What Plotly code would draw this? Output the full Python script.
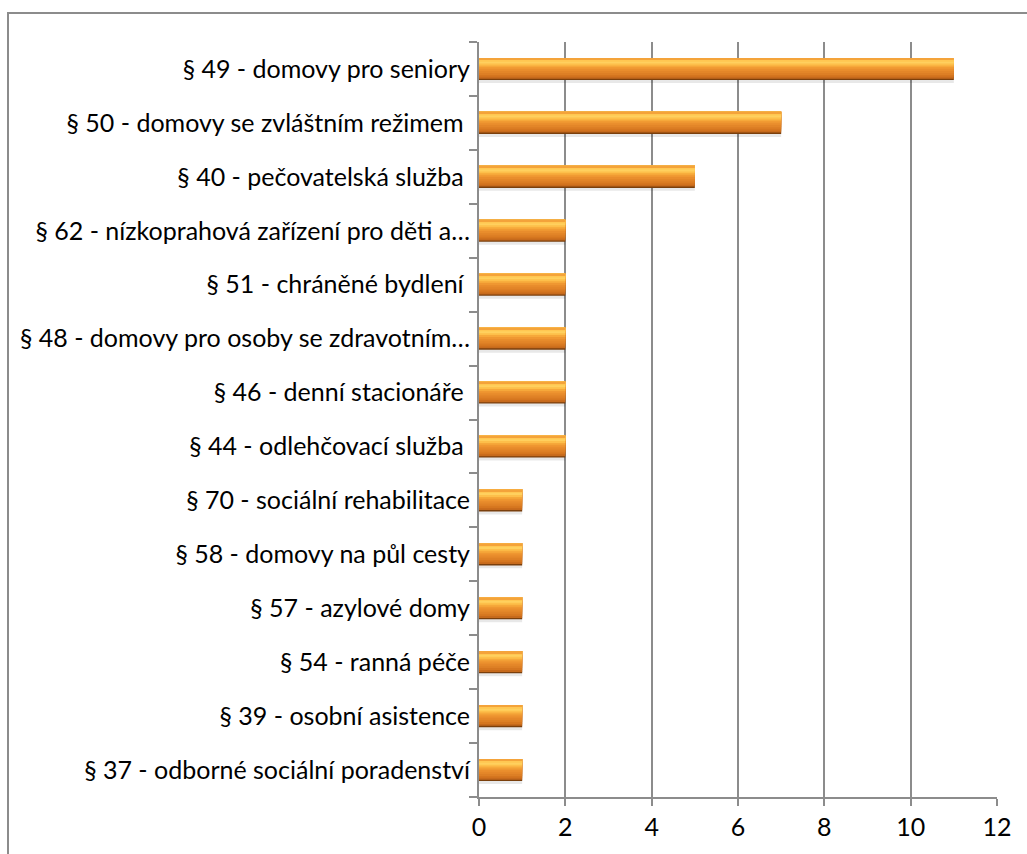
import plotly.graph_objects as go

# Categories listed bottom-to-top
categories = [
    "§ 37 - odborné sociální poradenství",
    "§ 39 - osobní asistence",
    "§ 54 - ranná péče",
    "§ 57 - azylové domy",
    "§ 58 - domovy na půl cesty",
    "§ 70 - sociální rehabilitace",
    "§ 44 - odlehčovací služba ",
    "§ 46 - denní stacionáře ",
    "§ 48 - domovy pro osoby se zdravotním…",
    "§ 51 - chráněné bydlení ",
    "§ 62 - nízkoprahová zařízení pro děti a…",
    "§ 40 - pečovatelská služba ",
    "§ 50 - domovy se zvláštním režimem ",
    "§ 49 - domovy pro seniory",
]
counts = [1, 1, 1, 1, 1, 1, 2, 2, 2, 2, 2, 5, 7, 11]

x_ticks = [0, 2, 4, 6, 8, 10, 12]

GRID = "#8c8c8c"
FONT = "Lato, Open Sans, sans-serif"

fig = go.Figure()

# Bar thickness (in category units) and its vertical shading, bottom to top
BAR_W = 0.41
shading = [
    "#C66A1C", "#D5761F", "#DD7F25", "#E38628", "#E98D2C", "#EF9731",
    "#F6A83A", "#FDBF4A", "#FFD05E", "#FFC752", "#F4A33A",
]

# soft drop shadow under the bar
fig.add_trace(go.Bar(
    x=counts, y=categories, orientation="h",
    offset=-BAR_W / 2 - 0.055, width=BAR_W,
    marker=dict(color="rgba(0,0,0,0.09)", line=dict(width=0)),
    showlegend=False, hoverinfo="skip",
))
# dark outline body
fig.add_trace(go.Bar(
    x=counts, y=categories, orientation="h",
    offset=-BAR_W / 2, width=BAR_W,
    marker=dict(color="#7a3f0c", line=dict(width=0)),
    showlegend=False, hoverinfo="x+y",
))
# shaded layers: each runs from its own start up to the top of the bar,
# and the next one paints over it, so no seams appear between them
top = BAR_W / 2
inner_bottom = -BAR_W / 2 + 0.025
slice_h = (top - inner_bottom) / len(shading)
for k, col in enumerate(shading):
    start = inner_bottom + k * slice_h
    fig.add_trace(go.Bar(
        x=counts, y=categories, orientation="h",
        offset=start, width=top - start,
        marker=dict(color=col, line=dict(width=0)),
        showlegend=False, hoverinfo="skip",
    ))

fig.update_layout(
    width=1027, height=854,
    margin=dict(l=479, r=30, t=42, b=57),
    paper_bgcolor="white", plot_bgcolor="white",
    barmode="overlay",
    font=dict(family=FONT, size=25, color="black"),
    xaxis=dict(
        range=[0, 12], tickvals=x_ticks, ticktext=[str(v) for v in x_ticks],
        showgrid=True, gridcolor=GRID, gridwidth=2,
        showline=True, linecolor=GRID, linewidth=2,
        ticks="outside", ticklen=7, tickcolor=GRID, tickwidth=2,
        zeroline=False, tickfont=dict(size=25),
    ),
    yaxis=dict(
        type="category", categoryorder="array", categoryarray=categories,
        range=[-0.5, len(categories) - 0.5],
        showgrid=False, showline=True, linecolor=GRID, linewidth=2,
        ticks="outside", tickson="boundaries", ticklen=8,
        tickcolor=GRID, tickwidth=2, ticklabelstandoff=2,
        tickfont=dict(size=25),
    ),
    shapes=[dict(
        type="rect", xref="paper", yref="paper",
        x0=-471 / 518, x1=1.2, y0=-0.2, y1=(854 - 13 - 57) / 755,
        line=dict(color=GRID, width=2), fillcolor="rgba(0,0,0,0)",
        layer="below",
    )],
)

fig.write_html("out.html")
